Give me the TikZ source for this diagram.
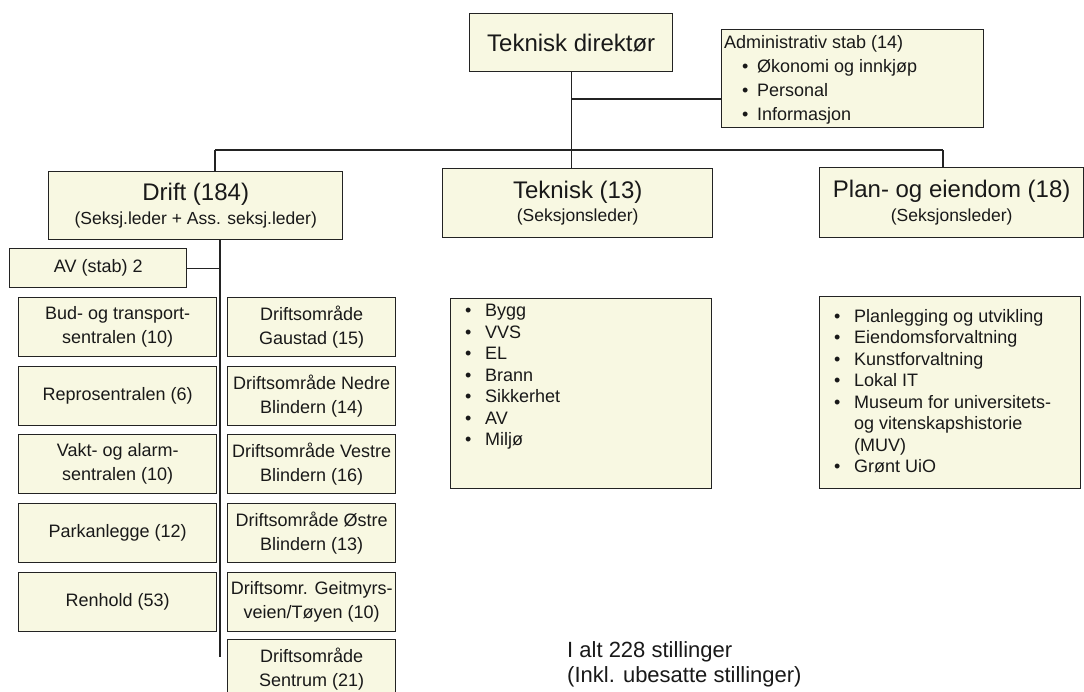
\documentclass[tikz,border=0pt]{standalone}
\usepackage{fontspec}
\setmainfont{Liberation Sans}
\definecolor{boxfill}{RGB}{248,248,226}
\definecolor{linec}{RGB}{35,35,35}
\definecolor{txtc}{RGB}{25,25,25}
\newcommand\setfs[2]{\fontsize{#1}{#2}\selectfont}
\newcommand\blt{\makebox[20pt][l]{\textbullet}}
\newcommand\ablt{\hspace*{18pt}\makebox[15pt][l]{\textbullet}}
\begin{document}
\begin{tikzpicture}[x=1pt,y=-1pt,
  box/.style={draw=linec, line width=1.4pt, fill=boxfill, inner sep=2pt, anchor=north west, align=center, text=txtc},
  conn/.style={draw=linec, line width=1.4pt},
  lst/.style={anchor=west, align=left, inner sep=0pt, text=txtc, font=\setfs{18}{21.5}},
  colbox/.style={box, minimum height=59pt, font=\setfs{18}{24}},
  hdr/.style={box, font=\setfs{17.5}{23.5}},
  ttl/.style={font=\setfs{24}{27}},
]
\fill[white] (0,0) rectangle (1084,691);
\useasboundingbox (0,0) rectangle (1084,691);
\clip (0,0) rectangle (1084,691);

% top level
\node[box, minimum width=203pt, minimum height=58pt, font=\setfs{24}{27}] (td) at (469,13) {Teknisk direktør};
\node[box, minimum width=262pt, minimum height=98pt] (adm) at (721,29) {};
\node[lst, font=\setfs{18}{24}] (admt) at (724,80) {Administrativ stab (14)\\ \ablt Økonomi og innkjøp\\ \ablt Personal\\ \ablt Informasjon};

% section heads
\node[hdr, minimum width=294pt, minimum height=68pt] (drift) at (48,171) {{\setfs{24}{27}Drift (184)}\\(Seksj.leder + Ass. seksj.leder)};
\node[hdr, minimum width=270pt, minimum height=69pt] (tek) at (442,168) {{\setfs{24}{27}Teknisk (13)}\\(Seksjonsleder)};
\node[hdr, minimum width=264pt, minimum height=70pt] (plan) at (819,167) {{\setfs{24}{27}Plan- og eiendom (18)}\\(Seksjonsleder)};

% lists
\node[box, minimum width=261pt, minimum height=190pt] (tekl) at (450,298) {};
\node[lst] (tekt) at (465,377) {\blt Bygg\\ \blt VVS\\ \blt EL\\ \blt Brann\\ \blt Sikkerhet\\ \blt AV\\ \blt Miljø};
\node[box, minimum width=261pt, minimum height=192pt] (planl) at (819,296) {};
\node[lst] (plant) at (834,391) {\blt Planlegging og utvikling\\ \blt Eiendomsforvaltning\\ \blt Kunstforvaltning\\ \blt Lokal IT\\ \blt Museum for universitets-\\ \hspace*{20pt}og vitenskapshistorie\\ \hspace*{20pt}(MUV)\\ \blt Grønt UiO};

% Drift units
\node[box, minimum width=177pt, minimum height=39pt, font=\setfs{18}{22}] (av) at (9,248) {AV (stab) 2};
\node[colbox, minimum width=198pt] (bud) at (18,297) {Bud- og transport-\\sentralen (10)};
\node[colbox, minimum width=198pt] (repro) at (18,366) {Reprosentralen (6)};
\node[colbox, minimum width=198pt] (vakt) at (18,434) {Vakt- og alarm-\\sentralen (10)};
\node[colbox, minimum width=198pt] (park) at (18,503) {Parkanlegge (12)};
\node[colbox, minimum width=198pt] (renh) at (18,572) {Renhold (53)};
\node[colbox, minimum width=168pt] (gau) at (227,297) {Driftsområde\\Gaustad (15)};
\node[colbox, minimum width=168pt] (nedre) at (227,366) {Driftsområde Nedre\\Blindern (14)};
\node[colbox, minimum width=168pt] (vestre) at (227,434) {Driftsområde Vestre\\Blindern (16)};
\node[colbox, minimum width=168pt] (ostre) at (227,503) {Driftsområde Østre\\Blindern (13)};
\node[colbox, minimum width=168pt] (geit) at (227,572) {Driftsomr. Geitmyrs-\\veien/Tøyen (10)};
\node[colbox, minimum width=168pt] (sentr) at (227,639) {Driftsområde\\Sentrum (21)};

% total
\node[anchor=north west, align=left, inner sep=0pt, text=txtc, font=\setfs{22}{25}] (tot) at (567,641) {I alt 228 stillinger\\(Inkl. ubesatte stillinger)};

% connectors
\coordinate (busL) at (215,150);
\coordinate (busR) at (943,150);
\coordinate (admJ) at (571,99);
\coordinate (dEnd) at (220,657);
\draw[conn] (busL) -- (busR);
\draw[conn] (busL) -- (busL |- drift.north);
\draw[conn] (busR) -- (busR |- plan.north);
\draw[conn] (td.south) -- (td.south |- tek.north);
\draw[conn] (admJ) -- (admJ -| adm.west);
\draw[conn] (drift.south -| dEnd) -- (dEnd);
\draw[conn] (av.east) -- (av.east -| dEnd);
\end{tikzpicture}
\end{document}
